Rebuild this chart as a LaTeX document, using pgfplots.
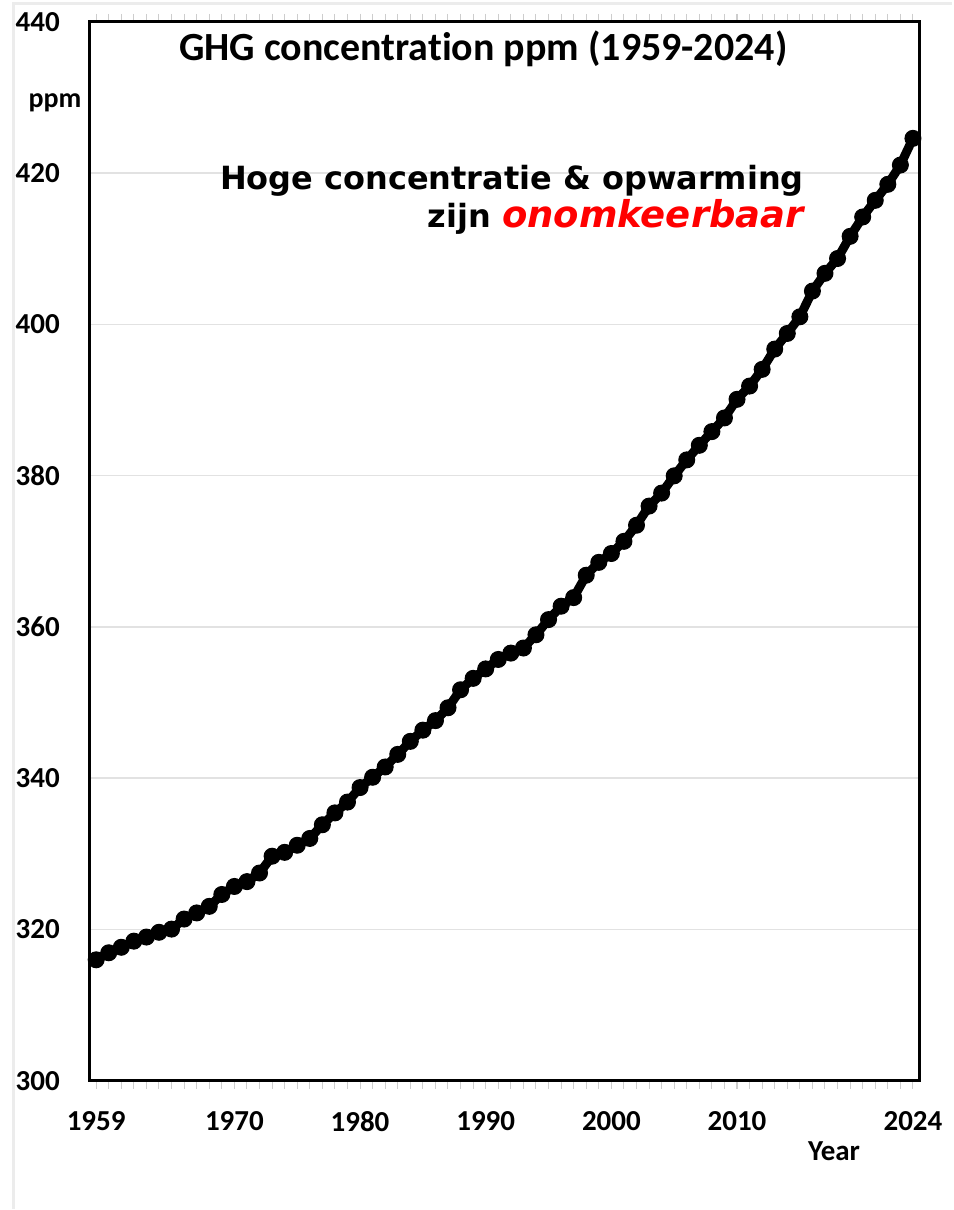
\documentclass[border=0pt]{standalone}
\usepackage{fontspec}
\setmainfont{Carlito}[Ligatures={NoCommon}]
\newfontfamily\dejavu{DejaVu Sans}
\usepackage{pgfplots}
\pgfplotsset{compat=1.18}
\definecolor{gridgray}{RGB}{226,226,226}
\definecolor{tickgray}{RGB}{205,205,205}
\definecolor{framegray}{RGB}{236,236,236}
\pgfplotstableread{
year ppm
1959 315.98
1960 316.91
1961 317.64
1962 318.45
1963 318.99
1964 319.62
1965 320.04
1966 321.37
1967 322.18
1968 323.05
1969 324.62
1970 325.68
1971 326.32
1972 327.46
1973 329.68
1974 330.19
1975 331.13
1976 332.03
1977 333.84
1978 335.41
1979 336.84
1980 338.76
1981 340.12
1982 341.48
1983 343.15
1984 344.87
1985 346.35
1986 347.61
1987 349.31
1988 351.69
1989 353.20
1990 354.45
1991 355.70
1992 356.54
1993 357.21
1994 358.96
1995 360.97
1996 362.74
1997 363.88
1998 366.84
1999 368.54
2000 369.71
2001 371.32
2002 373.45
2003 375.98
2004 377.70
2005 379.98
2006 382.09
2007 384.02
2008 385.83
2009 387.64
2010 390.10
2011 391.85
2012 394.06
2013 396.74
2014 398.81
2015 401.01
2016 404.41
2017 406.76
2018 408.72
2019 411.65
2020 414.21
2021 416.41
2022 418.53
2023 421.08
2024 424.61
}\co
\begin{document}
\begin{tikzpicture}
\begin{axis}[
  scale only axis, width=831pt, height=1060pt,
  xmin=1958.5, xmax=2024.55, ymin=300, ymax=440,
  xtick={1959,1970,1980,1990,2000,2010,2024},
  minor xtick={1959,...,2024},
  ytick={300,320,...,440},
  ymajorgrids, grid style={gridgray, line width=1.5pt},
  axis line style={line width=3pt, black},
  /pgf/number format/assume math mode=true,
  /pgf/number format/1000 sep={},
  ticklabel style={font=\fontsize{29}{29}\selectfont\bfseries},
  xtick align=outside,
  ytick style={draw=none},
  xtick style={tickgray, line width=1pt},
  major tick length=8pt, minor tick length=8pt,
  yticklabel style={anchor=east, inner sep=0pt, xshift=-30pt},
  xticklabel style={anchor=north, inner sep=0pt, yshift=-23pt},
  clip=false,
]
\addplot[black, line width=9pt, mark=*, mark size=8pt, mark options={line width=1pt}] table[x=year, y=ppm] {\co};
\node[anchor=base, font=\fontsize{40}{40}\selectfont\bfseries] at (rel axis cs:0.474,0.964) {GHG concentration ppm (1959-2024)};
\node[anchor=base, font=\fontsize{28}{28}\selectfont\bfseries] at (rel axis cs:-0.042,0.919) {ppm};
\node[anchor=base, font=\fontsize{29}{29}\selectfont\bfseries] at (rel axis cs:0.8965,-0.0755) {Year};
\node[anchor=base east, inner sep=0pt, font=\dejavu\fontsize{32}{32}\selectfont\bfseries] at (rel axis cs:0.8604,0.8415) {Hoge concentratie \& opwarming};
\node[anchor=base east, inner sep=0pt, font=\dejavu\fontsize{32}{32}\selectfont\bfseries] at (rel axis cs:0.8604,0.8057) {zijn \textcolor{red}{\fontsize{37}{37}\selectfont\itshape onomkeerbaar}};
\end{axis}
\draw[framegray, line width=3pt] ([shift={(-76pt,-128pt)}]current axis.south west) -- ([shift={(-76pt,1078pt)}]current axis.south west) -- ([shift={(863pt,1078pt)}]current axis.south west);
\path[use as bounding box] ([shift={(-90pt,-128pt)}]current axis.south west) rectangle ([shift={(863pt,1082pt)}]current axis.south west);
\end{tikzpicture}
\end{document}
